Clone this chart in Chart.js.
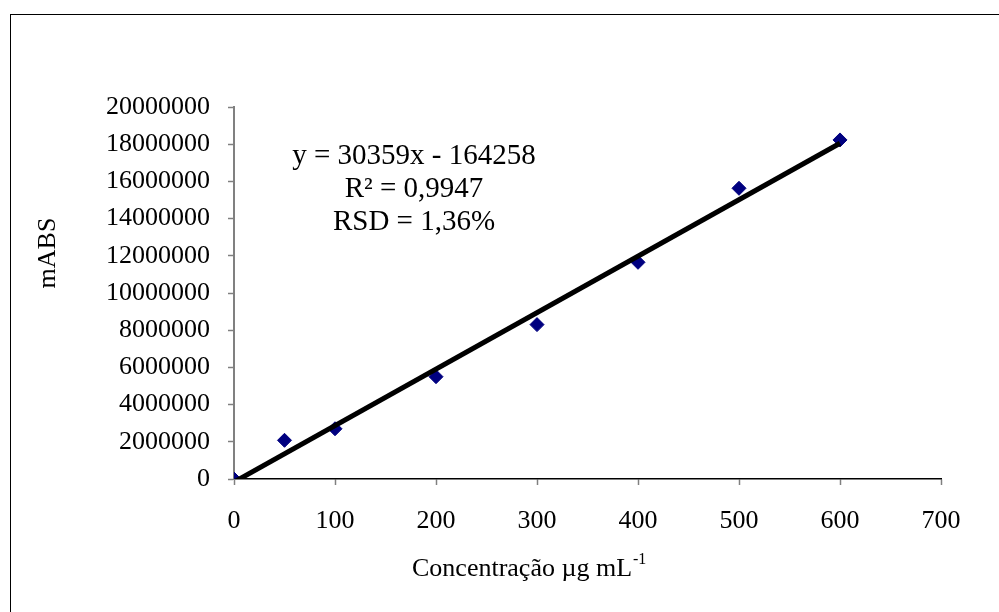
<!DOCTYPE html>
<html lang="pt">
<head>
    <meta charset="UTF-8">
    <title>Curva de calibração</title>
    <script src="https://cdn.jsdelivr.net/npm/chart.js"></script>
    <style>
        html, body { margin: 0; padding: 0; width: 100%; height: 100%; background: #ffffff; overflow: hidden; }
        #chart-container { position: absolute; left: 0; top: 0; width: 999px; height: 612px; }
    </style>
</head>
<body>
<div id="chart-container"><canvas id="calib"></canvas></div>
<script>
    // data
    const concentrations = [0, 50, 100, 200, 300, 400, 500, 600];
    const absValues = [0, 2080000, 2700000, 5500000, 8300000, 11650000, 15630000, 18230000];
    const trendX = [0, 600];
    const trendY = [-164258, 18051142];   // y = 30359x - 164258
    const xTicks = [0, 100, 200, 300, 400, 500, 600, 700];
    const yTicks = [0, 2000000, 4000000, 6000000, 8000000, 10000000, 12000000, 14000000, 16000000, 18000000, 20000000];
    const equationLines = ['y = 30359x - 164258', 'R² = 0,9947', 'RSD = 1,36%'];

    const FONT = "'Liberation Serif', 'Times New Roman', serif";

    // frame, equation text and axis titles
    const decorations = {
        id: 'decorations',
        beforeDraw(chart) {
            const ctx = chart.ctx;
            ctx.save();
            ctx.fillStyle = '#ffffff';
            ctx.fillRect(0, 0, chart.width, chart.height);
            ctx.strokeStyle = '#000000';
            ctx.lineWidth = 1;
            ctx.strokeRect(10.5, 14.5, 1200, 1200);
            ctx.restore();
        },
        afterDraw(chart) {
            const ctx = chart.ctx;
            const area = chart.chartArea;
            ctx.save();
            ctx.fillStyle = '#000000';
            ctx.font = '29px ' + FONT;
            ctx.textAlign = 'center';
            ctx.textBaseline = 'middle';
            equationLines.forEach((t, i) => {
                ctx.fillText(t, area.left + 180, area.top + 49 + i * 33);
            });

            // x title with superscript
            const main = 'Concentração µg mL';
            const sup = '-1';
            const x0 = area.left + 178;
            const yT = area.bottom + 90;
            ctx.textAlign = 'left';
            ctx.font = '26px ' + FONT;
            const wMain = ctx.measureText(main).width;
            ctx.fillText(main, x0, yT);
            ctx.font = '16px ' + FONT;
            ctx.fillText(sup, x0 + wMain + 1, yT - 9);

            // y title
            ctx.font = '26px ' + FONT;
            ctx.translate(48, area.top + 146);
            ctx.rotate(-Math.PI / 2);
            ctx.textAlign = 'center';
            ctx.fillText('mABS', 0, 0);
            ctx.restore();
        }
    };

    new Chart(document.getElementById('calib'), {
        type: 'scatter',
        data: {
            datasets: [
                {
                    label: 'Linear',
                    type: 'line',
                    data: trendX.map((x, i) => ({ x: x, y: trendY[i] })),
                    borderColor: '#000000',
                    borderWidth: 5,
                    pointRadius: 0,
                    fill: false
                },
                {
                    label: 'mABS',
                    data: concentrations.map((x, i) => ({ x: x, y: absValues[i] })),
                    backgroundColor: '#000080',
                    borderColor: '#000080',
                    pointStyle: 'rectRot',
                    pointRadius: 7,
                    pointHoverRadius: 7
                }
            ]
        },
        options: {
            responsive: true,
            maintainAspectRatio: false,
            animation: false,
            layout: { padding: { top: 107, right: 58, left: 0, bottom: 0 } },
            plugins: {
                legend: { display: false },
                tooltip: { enabled: false },
                title: { display: false }
            },
            scales: {
                x: {
                    type: 'linear',
                    min: 0,
                    max: 700,
                    afterBuildTicks: scale => { scale.ticks = xTicks.map(v => ({ value: v })); },
                    afterFit: scale => { scale.height = 133; },
                    ticks: {
                        color: '#000000',
                        font: { family: FONT, size: 26 },
                        padding: 21,
                        maxRotation: 0,
                        callback: v => String(v)
                    },
                    grid: { drawOnChartArea: false, drawTicks: true, tickLength: 6, tickColor: '#808080', tickWidth: 1.5 },
                    border: { color: '#000000', width: 1.5 }
                },
                y: {
                    type: 'linear',
                    min: 0,
                    max: 20000000,
                    afterBuildTicks: scale => { scale.ticks = yTicks.map(v => ({ value: v })); },
                    afterFit: scale => { scale.width = 234; },
                    ticks: {
                        color: '#000000',
                        font: { family: FONT, size: 26 },
                        padding: 18,
                        callback: v => String(v)
                    },
                    grid: { drawOnChartArea: false, drawTicks: true, tickLength: 6, tickColor: '#808080', tickWidth: 1.5 },
                    border: { color: '#808080', width: 2 }
                }
            }
        },
        plugins: [decorations]
    });
</script>
</body>
</html>
